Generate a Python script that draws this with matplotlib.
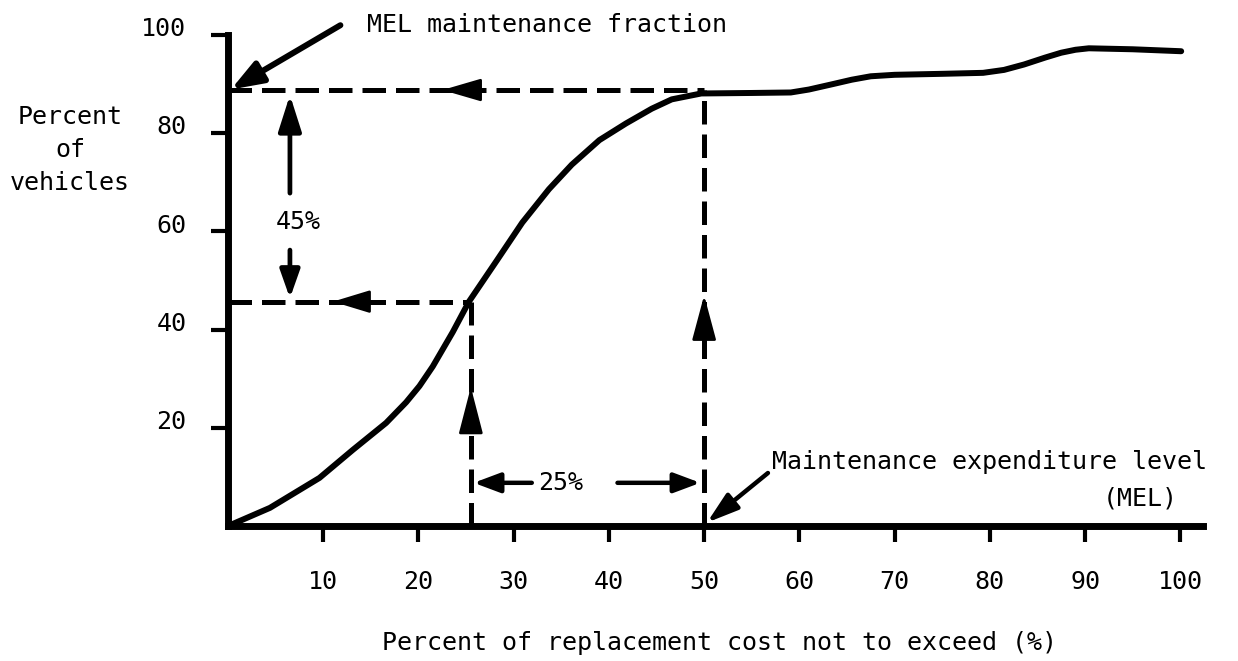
import numpy as np
import matplotlib.pyplot as plt
from matplotlib.transforms import ScaledTranslation

plt.rcParams['font.family'] = ['DejaVu Sans Mono']
plt.rcParams['font.size'] = 18

# curve
cost_pct = [0, 4.4, 9.6, 13.1, 16.6, 18.7, 20.1, 21.5, 23.6, 25.3, 28.2, 30.9,
            33.7, 36.1, 39.0, 41.8, 44.5, 46.6, 49.7, 55.0, 59.1, 61.0, 63.5,
            65.5, 67.5, 70.0, 75.0, 79.3, 81.5, 83.6, 85.8, 87.5, 89.0, 90.4,
            95.0, 100.1]
vehicles_pct = [0, 3.7, 9.8, 15.5, 21.0, 25.2, 28.5, 32.5, 39.5, 45.7, 54.0, 61.8,
                68.6, 73.6, 78.6, 82.0, 85.0, 86.9, 88.1, 88.2, 88.3, 88.9, 90.0,
                90.9, 91.6, 91.9, 92.1, 92.3, 92.9, 94.0, 95.4, 96.4, 97.0, 97.3,
                97.1, 96.7]

x_ticks = [10, 20, 30, 40, 50, 60, 70, 80, 90, 100]
y_ticks = [20, 40, 60, 80, 100]

mel = 50          # maintenance expenditure level
mel_frac = 88.8   # MEL maintenance fraction
low_cost = 25.5
low_frac = 45.7

fig = plt.figure(figsize=(12.38, 6.61), dpi=100)
ax = fig.add_axes([0.1842, 0.2042, 0.7876, 0.7428])

ax.plot(cost_pct, vehicles_pct, color='k', lw=4.3, solid_capstyle='round',
        solid_joinstyle='round', clip_on=False, zorder=3)

dash = (0, (4.7, 2.0))
ax.plot([0, mel], [mel_frac, mel_frac], color='k', lw=3.6, ls=dash, clip_on=False)
ax.plot([mel, mel], [0, mel_frac], color='k', lw=3.6, ls=dash, clip_on=False)
ax.plot([0, low_cost], [low_frac, low_frac], color='k', lw=3.6, ls=dash, clip_on=False)
ax.plot([low_cost, low_cost], [0, low_frac], color='k', lw=3.6, ls=dash, clip_on=False)


def arrow(tail, tip, lw=3.0, hl=20, hw=7):
    ax.annotate('', xy=tip, xytext=tail,
                arrowprops=dict(arrowstyle='-|>,head_length=%.2f,head_width=%.2f' % (hl / 10, hw / 10),
                                mutation_scale=10, lw=lw, color='k',
                                shrinkA=0, shrinkB=0),
                annotation_clip=False)


# arrow heads sitting on the dashed guides
arrow((26.3, mel_frac), (22.5, mel_frac), lw=2, hl=24, hw=7)
arrow((14.6, low_frac), (11.0, low_frac), lw=2, hl=23, hw=7)
arrow((low_cost, 19.5), (low_cost, 28.3), lw=2, hl=29, hw=7.5)
arrow((mel, 38.5), (mel, 47.0), lw=2, hl=28, hw=7.5)

# 45% and 25% spans
arrow((6.5, 67.8), (6.5, 87.8), lw=3.4, hl=22, hw=7)
arrow((6.5, 56.2), (6.5, 46.4), lw=3.4, hl=17, hw=6)
ax.text(7.4, 62, '45%', ha='center', va='center')
arrow((31.9, 8.8), (25.8, 8.8), lw=3.2, hl=16, hw=6)
arrow((40.9, 8.8), (49.6, 8.8), lw=3.2, hl=16, hw=6)
ax.text(34.9, 8.8, '25%', ha='center', va='center')

# callouts
arrow((11.8, 102.0), (0.3, 88.9), lw=4.3, hl=19, hw=7)
ax.text(14.6, 102.0, 'MEL maintenance fraction', ha='left', va='center')
arrow((56.7, 10.8), (50.3, 0.7), lw=3.2, hl=19, hw=6)
ax.text(57.1, 13.0, 'Maintenance expenditure level', ha='left', va='center')
ax.text(95.8, 5.7, '(MEL)', ha='center', va='center')

ax.set_xlim(0, 102.4)
ax.set_ylim(0, 100)
ax.set_xticks(x_ticks)
ax.set_yticks(y_ticks)
ax.tick_params(axis='x', direction='out', length=11.5, width=3, pad=20)
ax.tick_params(axis='y', direction='out', length=12, width=3, pad=18)

offset = ScaledTranslation(0, 6 / 72, fig.dpi_scale_trans)
for lab in ax.get_yticklabels():
    lab.set_transform(lab.get_transform() + offset)

for side in ['top', 'right']:
    ax.spines[side].set_visible(False)
for side in ['left', 'bottom']:
    ax.spines[side].set_linewidth(5)
    ax.spines[side].set_capstyle('projecting')

fig.text(70 / 1238, 1 - 150 / 661, 'Percent\nof\nvehicles', ha='center', va='center',
         multialignment='center', linespacing=1.45)
fig.text(720 / 1238, 1 - 643 / 661, 'Percent of replacement cost not to exceed (%)',
         ha='center', va='center')

fig.savefig('out.png', dpi=100)
